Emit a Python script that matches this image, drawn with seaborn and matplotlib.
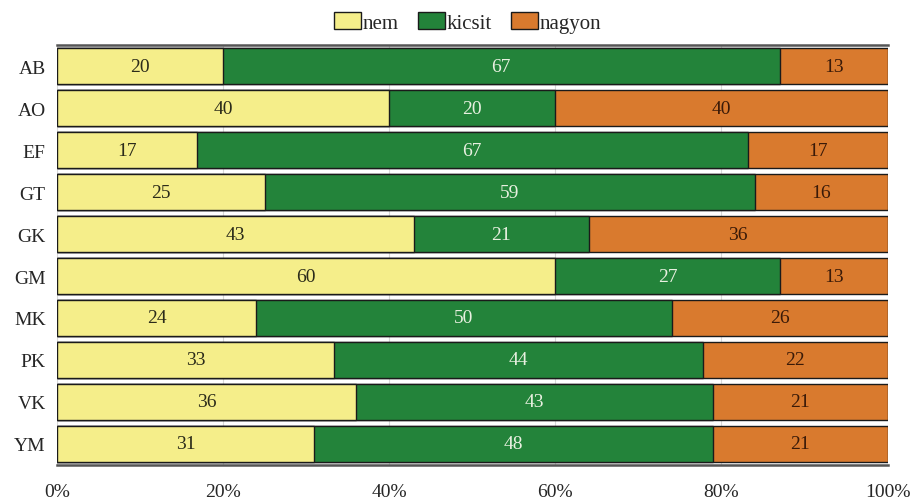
import matplotlib
matplotlib.use("Agg")
import pandas as pd
import matplotlib.pyplot as plt
import seaborn as sns
from matplotlib.patches import Patch

# ---------- Data ----------
groups = ["AB", "AO", "EF", "GT", "GK", "GM", "MK", "PK", "VK", "YM"]
nem = [20, 40, 17, 25, 43, 60, 24, 33, 36, 31]
kicsit = [67, 20, 67, 59, 21, 27, 50, 44, 43, 48]
nagyon = [13, 40, 17, 16, 36, 13, 26, 22, 21, 21]
series_names = ["nem", "kicsit", "nagyon"]
colors = ["#F5EE8A", "#23833A", "#D97A2E"]
text_colors = ["#2b2b1a", "#e8f0e0", "#3a1a08"]
x_ticks = [0, 20, 40, 60, 80, 100]

df = pd.DataFrame({"group": groups, "nem": nem, "kicsit": kicsit, "nagyon": nagyon})
total = df[series_names].sum(axis=1)
# share of each answer within a group (labels keep the rounded numbers)
for s in series_names:
    df[s + "_pct"] = df[s] / total * 100
df["c1"] = df["nem_pct"]
df["c2"] = df["nem_pct"] + df["kicsit_pct"]
df["c3"] = df["c2"] + df["nagyon_pct"]

sns.set_style("white")
plt.rcParams["font.family"] = ["Liberation Serif", "DejaVu Serif"]

fig = plt.figure(figsize=(9.17, 5.02), dpi=100)
ax = fig.add_axes([0.062, 0.072, 0.906, 0.836])

# draw cumulative bars back to front to get the stacked look
for col, color in zip(["c3", "c2", "c1"], colors[::-1]):
    sns.barplot(data=df, x=col, y="group", orient="h", color=color,
                width=0.86, edgecolor="#1a1a1a", linewidth=1.0, ax=ax,
                saturation=1)

# segment labels
starts = [0 * df["c1"], df["c1"], df["c2"]]
for s, start, tc in zip(series_names, starts, text_colors):
    for i in range(len(df)):
        mid = start.iloc[i] + df[s + "_pct"].iloc[i] / 2
        ax.text(mid, i, str(df[s].iloc[i]), ha="center", va="center",
                fontsize=14, color=tc)

ax.set_xlim(0, 100)
ax.set_xticks(x_ticks)
ax.set_xticklabels([f"{t}%" for t in x_ticks], fontsize=14)
ax.tick_params(axis="x", length=0, pad=13)
ax.tick_params(axis="y", length=0, pad=8, labelsize=14)
ax.set_xlabel("")
ax.set_ylabel("")
ax.set_axisbelow(True)
ax.grid(axis="x", color="#d8d8d8", linewidth=0.8)
for side in ["left", "right"]:
    ax.spines[side].set_visible(False)
for side in ["top", "bottom"]:
    ax.spines[side].set_color("#555555")
    ax.spines[side].set_linewidth(1.8)

handles = [Patch(facecolor=c, edgecolor="#1a1a1a", linewidth=1.0) for c in colors]
fig.legend(handles, series_names, loc="upper center", bbox_to_anchor=(0.51, 1.012),
           ncol=3, frameon=False, fontsize=15, handlelength=1.3, handleheight=0.9,
           handletextpad=0.1, columnspacing=0.9)

fig.savefig("out.png", dpi=100)
